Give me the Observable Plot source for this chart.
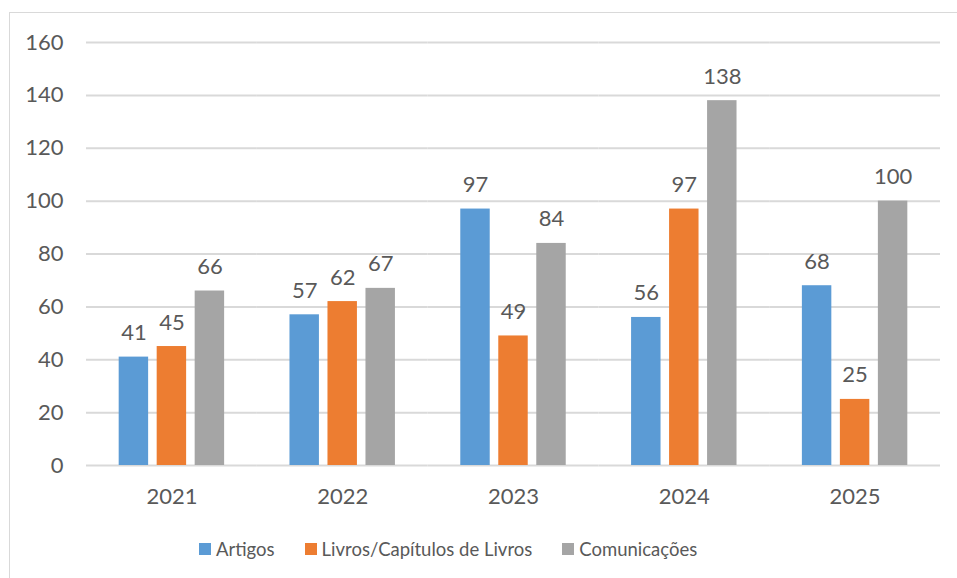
<!DOCTYPE html>
<html>
<head>
<meta charset="utf-8">
<script src="https://cdn.jsdelivr.net/npm/d3@7"></script>
<script src="https://cdn.jsdelivr.net/npm/@observablehq/plot@0.6"></script>
<style>
  html, body { margin: 0; padding: 0; background: #fff; }
  body { width: 957px; height: 578px; overflow: hidden; position: relative; font-family: Lato, "Open Sans", sans-serif; }
  #frame { position: absolute; left: 9px; top: 12px; width: 1000px; height: 600px; border: 1.5px solid #d9d9d9; box-sizing: border-box; }
  #chart { position: absolute; left: 0; top: 0; }
  #legend { position: absolute; left: 184px; top: 538px; display: flex; color: #595959; font-size: 18.5px; }
  .item { display: flex; align-items: center; margin: 0 15px; }
  .sw { width: 12px; height: 12px; margin-right: 5px; }
</style>
</head>
<body>
<div id="frame"></div>
<div id="chart"></div>
<div id="legend"></div>
<script>
const years = ["2021", "2022", "2023", "2024", "2025"];
const series = ["Artigos", "Livros/Capítulos de Livros", "Comunicações"];
const artigos = [41, 57, 97, 56, 68];
const livros = [45, 62, 49, 97, 25];
const comunicacoes = [66, 67, 84, 138, 100];
const colors = ["#5B9BD5", "#ED7D31", "#A5A5A5"];
const yTicks = [0, 20, 40, 60, 80, 100, 120, 140, 160];

const values = [artigos, livros, comunicacoes];
const data = [];
years.forEach((yr, i) => series.forEach((s, j) => data.push({year: yr, series: s, value: values[j][i]})));

const textColor = "#595959";
const fs = 22;
const plot = Plot.plot({
  width: 957,
  height: 520,
  marginLeft: 86,
  marginRight: 17,
  marginTop: 42,
  marginBottom: 55,
  style: {fontFamily: "Lato, 'Open Sans', sans-serif", fontSize: fs + "px", color: textColor, background: "transparent"},
  fx: {domain: years, padding: 0, round: false, label: null},
  x: {domain: series, paddingInner: 0.225, paddingOuter: 0.86, round: false, axis: null},
  y: {domain: [0, 160], ticks: yTicks, label: null},
  color: {domain: series, range: colors},
  marks: [
    Plot.gridY(yTicks, {stroke: "#d9d9d9", strokeOpacity: 1, strokeWidth: 2}),
    Plot.barY(data, {fx: "year", x: "series", y: "value", fill: "series"}),
    Plot.text(data, {fx: "year", x: "series", y: "value", text: d => String(d.value), lineAnchor: "bottom", dy: -17, fill: textColor, fontSize: fs}),
    Plot.axisY(yTicks, {tickSize: 0, tickPadding: 23, label: null, fill: textColor, fontSize: fs}),
    Plot.axisFx({anchor: "bottom", tickSize: 0, tickPadding: 23, label: null, fill: textColor, fontSize: fs})
  ]
});
document.getElementById("chart").appendChild(plot);

const legend = document.getElementById("legend");
series.forEach((s, i) => {
  const it = document.createElement("div");
  it.className = "item";
  const sw = document.createElement("div");
  sw.className = "sw";
  sw.style.background = colors[i];
  const t = document.createElement("span");
  t.textContent = s;
  it.appendChild(sw);
  it.appendChild(t);
  legend.appendChild(it);
});
</script>
</body>
</html>
